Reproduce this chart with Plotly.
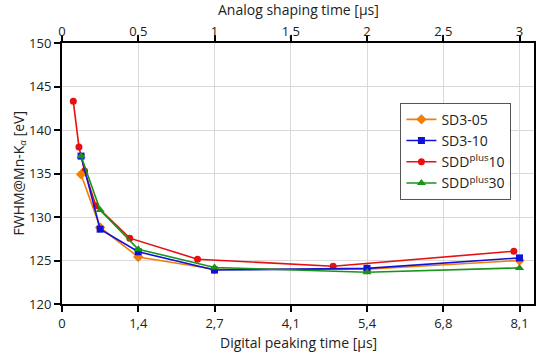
import plotly.graph_objects as go

# Analog shaping time [µs] (top axis) for SD3 / SDDplus30 series
analog_t = [0.125, 0.25, 0.5, 1.0, 2.0, 3.0]
sd3_05 = [134.9, 128.8, 125.4, 124.0, 124.0, 125.0]
sd3_10 = [137.0, 128.6, 126.0, 123.9, 124.1, 125.3]
sddplus30 = [137.0, 130.8, 126.3, 124.2, 123.65, 124.15]

# Digital peaking time [µs] (bottom axis) for SDDplus10
digital_t = [0.2, 0.3, 0.4, 0.6, 1.2, 2.4, 4.8, 8.0]
sddplus10 = [143.3, 138.05, 135.3, 131.3, 127.57, 125.15, 124.34, 126.07]

bottom_tickvals = [0, 1.35, 2.7, 4.05, 5.4, 6.75, 8.1]
bottom_ticktext = ["0", "1,4", "2,7", "4,1", "5,4", "6,8", "8,1"]
top_tickvals = [0, 0.5, 1, 1.5, 2, 2.5, 3]
top_ticktext = ["0", "0,5", "1", "1,5", "2", "2,5", "3"]
y_ticks = [120, 125, 130, 135, 140, 145, 150]

C_OR = "#F07F0A"
C_BL = "#1010D8"
C_RD = "#E80F0F"
C_GR = "#17951A"

FONT = "Open Sans, Noto Sans, sans-serif"
TXT = "#222"

fig = go.Figure()
fig.add_trace(go.Scatter(x=analog_t, y=sd3_05, xaxis="x2", name="SD3-05", legendrank=1,
                         mode="lines+markers", line=dict(color=C_OR, width=1.6),
                         marker=dict(symbol="diamond", size=8, color=C_OR)))
fig.add_trace(go.Scatter(x=analog_t, y=sd3_10, xaxis="x2", name="SD3-10", legendrank=2,
                         mode="lines+markers", line=dict(color=C_BL, width=1.6),
                         marker=dict(symbol="square", size=7, color=C_BL)))
fig.add_trace(go.Scatter(x=analog_t, y=sddplus30, xaxis="x2", name="SDD<sup>plus</sup>30", legendrank=4,
                         mode="lines+markers", line=dict(color=C_GR, width=1.6),
                         marker=dict(symbol="triangle-up", size=8, color=C_GR)))
fig.add_trace(go.Scatter(x=digital_t, y=sddplus10, xaxis="x", name="SDD<sup>plus</sup>10", legendrank=3,
                         mode="lines+markers", line=dict(color=C_RD, width=1.6),
                         marker=dict(symbol="circle", size=7, color=C_RD)))
# dummy trace to activate the right axis line
fig.add_trace(go.Scatter(x=[None], y=[None], yaxis="y2", showlegend=False, hoverinfo="skip"))

axis_common = dict(showline=True, linecolor="black", linewidth=2, ticks="outside",
                   ticklen=6, tickcolor="black", tickwidth=1.5, automargin=False,
                   showgrid=True, gridcolor="#D9D9D9", gridwidth=1, zeroline=False,
                   tickfont=dict(size=13, color=TXT, family=FONT))

fig.update_layout(
    width=560, height=354,
    margin=dict(l=62, r=26, t=43, b=50, autoexpand=False),
    paper_bgcolor="white", plot_bgcolor="white",
    font=dict(family=FONT, color=TXT),
    xaxis=dict(range=[0, 3.095 * 2.7], tickvals=bottom_tickvals, ticktext=bottom_ticktext,
               **axis_common),
    xaxis2=dict(range=[0, 3.095], tickvals=top_tickvals, ticktext=top_ticktext,
                overlaying="x", side="top", anchor="y", ticklabelstandoff=-6, **axis_common),
    yaxis=dict(range=[120, 150], tickvals=y_ticks, **axis_common),
    yaxis2=dict(range=[120, 150], overlaying="y", side="right", anchor="x", showline=True,
                linecolor="black", linewidth=2, showticklabels=False, ticks="", showgrid=False,
                zeroline=False, automargin=False),
    legend=dict(x=0.717, y=0.771, xanchor="left", yanchor="top",
                bgcolor="white", bordercolor="#555", borderwidth=1,
                font=dict(size=14, family=FONT, color=TXT),
                itemwidth=30, tracegroupgap=0),
    showlegend=True,
    annotations=[
        dict(text="Analog shaping time [µs]", xref="paper", yref="paper", x=0.5, y=1,
             xanchor="center", yanchor="middle", yshift=34, showarrow=False,
             font=dict(size=14, family=FONT, color=TXT)),
        dict(text="Digital peaking time [µs]", xref="paper", yref="paper", x=0.5, y=0,
             xanchor="center", yanchor="middle", yshift=-38, showarrow=False,
             font=dict(size=14, family=FONT, color=TXT)),
        dict(text="FWHM@Mn-K<sub><i>α</i></sub> [eV]", xref="paper", yref="paper", x=0, y=0.5,
             xanchor="center", yanchor="middle", xshift=-43, textangle=-90, showarrow=False,
             font=dict(size=14, family=FONT, color=TXT)),
    ],
)

fig.write_html("out.html")
